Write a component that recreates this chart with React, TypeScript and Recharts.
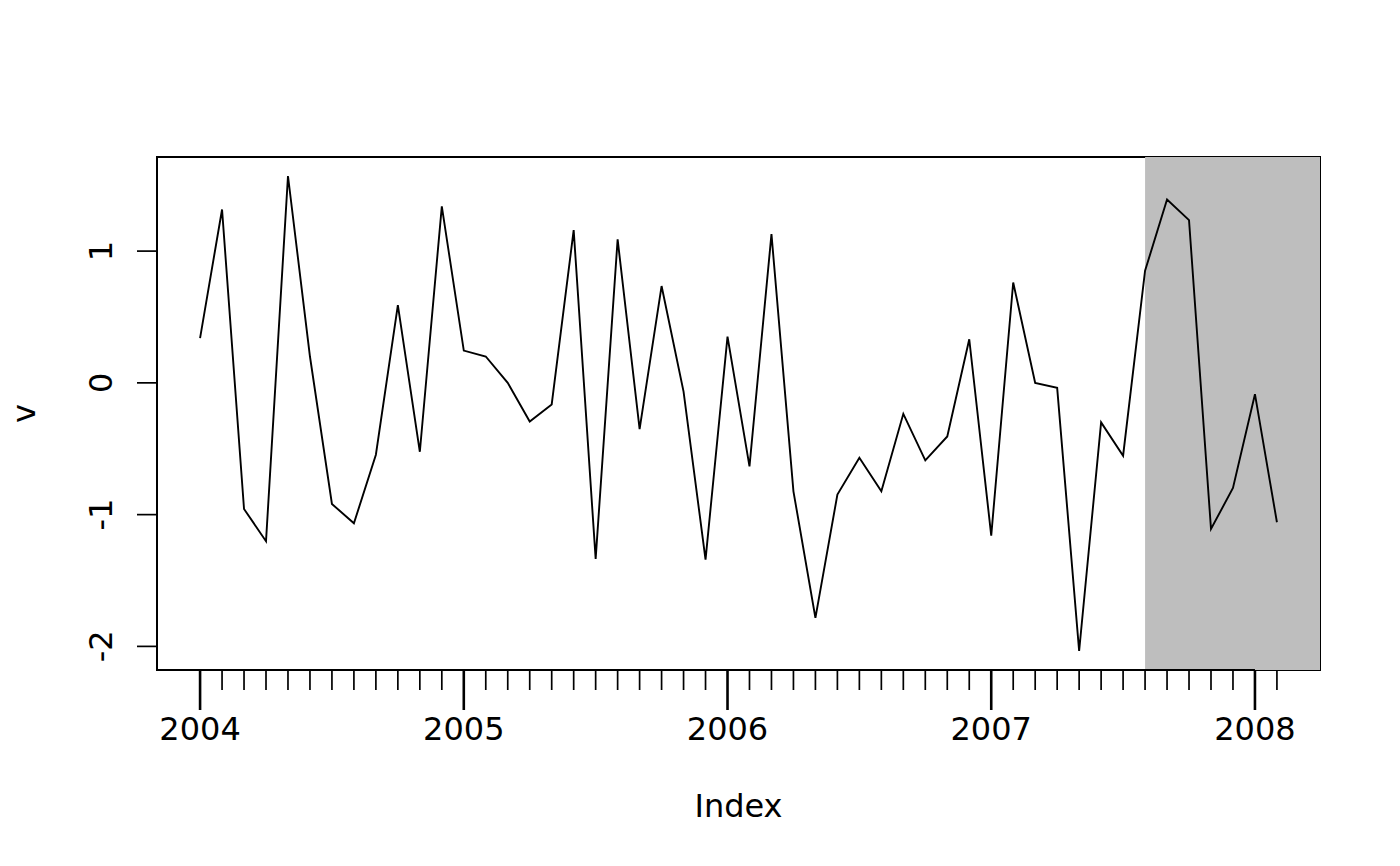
import { LineChart, Line, XAxis, YAxis, ReferenceArea, ReferenceLine } from "recharts";

// monthly series, 2004-01 .. 2008-02
const values = [
  0.34, 1.316, -0.957, -1.202, 1.57, 0.2, -0.919, -1.066, -0.545, 0.59, -0.523, 1.34,
  0.245, 0.2, 0.0, -0.293, -0.164, 1.159, -1.336, 1.089, -0.351, 0.735, -0.066, -1.341,
  0.351, -0.634, 1.129, -0.823, -1.783, -0.848, -0.568, -0.823, -0.235, -0.588, -0.407, 0.331,
  -1.159, 0.762, 0.0, -0.038, -2.035, -0.3, -0.553, 0.851, 1.391, 1.235, -1.109, -0.798,
  -0.086, -1.058,
];
const yearLabels = ["2004", "2005", "2006", "2007", "2008"];
const yTicks = [-2, -1, 0, 1];
const shadeStart = 43; // 2007-08

const data = values.map((v, i) => ({ t: i, v }));
const monthTicks = values.map((_, i) => i);

// R style 4% axis extension
const xPad = (values.length - 1) * 0.04;
const xDomain = [-xPad, values.length - 1 + xPad];
const yMin = Math.min(...values);
const yMax = Math.max(...values);
const yPad = (yMax - yMin) * 0.04;
const yDomain = [yMin - yPad, yMax + yPad];

const FONT = "DejaVu Sans";

function MonthTick(props: any) {
  const { x, y, payload } = props;
  const m = payload.value;
  const isYear = m % 12 === 0;
  return (
    <g>
      <line x1={x} x2={x} y1={y} y2={y + (isYear ? 40 : 20)} stroke="#000" strokeWidth={isYear ? 2.6 : 1.7} />
      {isYear && (
        <text x={x} y={y + 70} textAnchor="middle" fontSize={32} fill="#000" fontFamily={FONT}>
          {yearLabels[m / 12]}
        </text>
      )}
    </g>
  );
}

function ValueTick(props: any) {
  const { x, y, payload } = props;
  return (
    <text x={x} y={y} transform={`rotate(-90 ${x} ${y})`} textAnchor="middle" fontSize={32} fill="#000" fontFamily={FONT}>
      {String(payload.value)}
    </text>
  );
}

function YTitle(props: any) {
  const { x, y, height } = props.viewBox;
  const cx = x + 35;
  const cy = y + height / 2;
  return (
    <text x={cx} y={cy} transform={`rotate(-90 ${cx} ${cy})`} textAnchor="middle" fontSize={32} fill="#000" fontFamily={FONT}>
      v
    </text>
  );
}

function XTitle(props: any) {
  const { x, y, width } = props.viewBox;
  return (
    <text x={x + width / 2} y={y + 147} textAnchor="middle" fontSize={32} fill="#000" fontFamily={FONT}>
      Index
    </text>
  );
}

export default function App() {
  return (
    <div style={{ position: "absolute", left: 0, top: 0, background: "#fff" }}>
      <LineChart
        width={1400}
        height={866}
        data={data}
        margin={{ top: 157, right: 80, bottom: 0, left: 0 }}
        style={{ fontFamily: FONT }}
      >
        <XAxis
          dataKey="t"
          type="number"
          domain={xDomain}
          allowDataOverflow
          ticks={monthTicks}
          interval={0}
          tick={MonthTick}
          tickLine={false}
          axisLine={false}
          tickSize={0}
          tickMargin={0}
          height={196}
          label={XTitle}
        />
        <YAxis
          type="number"
          domain={yDomain}
          allowDataOverflow
          ticks={yTicks}
          interval={0}
          tick={ValueTick}
          tickLine={{ stroke: "#000", strokeWidth: 1.7 }}
          axisLine={false}
          tickSize={20}
          tickMargin={25}
          width={157}
          label={YTitle}
        />
        <ReferenceArea
          x1={xDomain[0]}
          x2={xDomain[1]}
          y1={yDomain[0]}
          y2={yDomain[1]}
          fill="none"
          stroke="#000"
          strokeWidth={2}
          ifOverflow="visible"
        />
        <ReferenceArea
          x1={shadeStart}
          x2={xDomain[1]}
          y1={yDomain[0]}
          y2={yDomain[1]}
          fill="#BEBEBE"
          fillOpacity={1}
          stroke="none"
          ifOverflow="visible"
        />
        <ReferenceLine
          segment={[
            { x: 0, y: yDomain[0] },
            { x: (yearLabels.length - 1) * 12, y: yDomain[0] },
          ]}
          stroke="#000"
          strokeWidth={2}
          ifOverflow="visible"
        />
        <Line
          dataKey="v"
          type="linear"
          stroke="#000"
          strokeWidth={1.9}
          dot={false}
          activeDot={false}
          isAnimationActive={false}
        />
      </LineChart>
    </div>
  );
}
